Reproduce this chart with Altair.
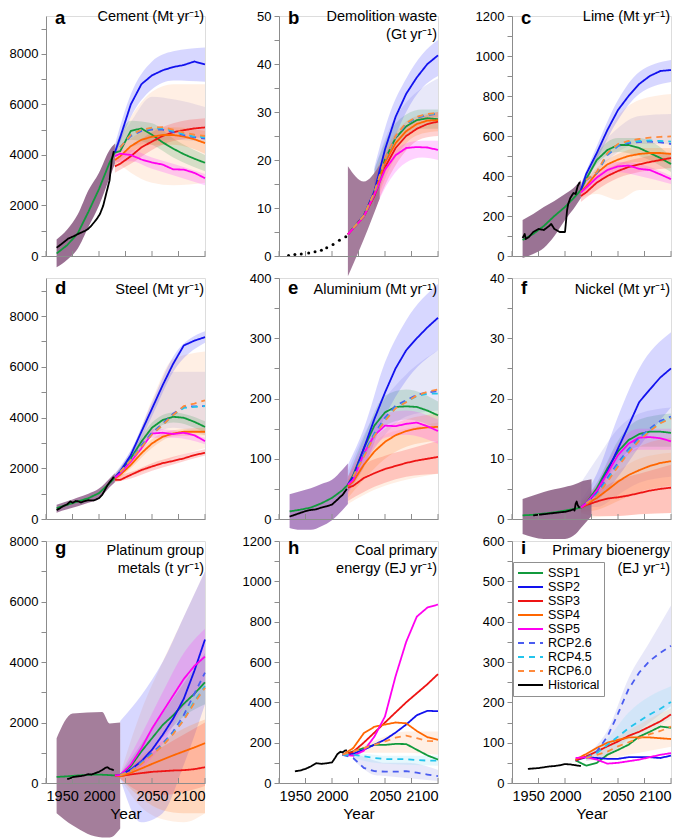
import altair as alt
import pandas as pd

# ---------------------------------------------------------------- data ----
PROJ_YEARS = [2015, 2020, 2030, 2040, 2050, 2060, 2070, 2080, 2090, 2100]
DEC_YEARS = [2010, 2020, 2030, 2040, 2050, 2060, 2070, 2080, 2090, 2100]
RCP_YEARS = [2020, 2030, 2040, 2050, 2060, 2070, 2080, 2090, 2100]
BACK_YEARS = [1960, 1970, 1980, 1990, 2000, 2010]
BAND_YEARS = [2015, 2030, 2050, 2070, 2100]
HIST_BAND_YEARS = [1960, 1970, 1980, 1990, 2000, 2010, 2015]
TICK_YEARS = [1950, 1975, 2000, 2025, 2050, 2075, 2100]
LABEL_YEARS = [1950, 2000, 2050, 2100]

SERIES = ["SSP1", "SSP2", "SSP3", "SSP4", "SSP5", "RCP2.6", "RCP4.5", "RCP6.0", "Historical"]

# a  Cement (Mt/yr)
CEMENT = {
    "hist_years": [1960, 1966, 1971, 1976, 1981, 1987, 1990, 1993, 1998, 2001, 2004, 2007, 2010, 2012, 2014],
    "hist": [326, 520, 690, 780, 886, 1000, 1080, 1210, 1470, 1670, 1995, 2500, 3000, 3800, 4150],
    "back": [100, 430, 900, 1750, 2650, 3700],
    "ssp_years": PROJ_YEARS,
    "SSP1": [4100, 4150, 4950, 5050, 4800, 4500, 4250, 4030, 3850, 3690],
    "SSP2": [4100, 4700, 6000, 6800, 7150, 7350, 7480, 7560, 7700, 7580],
    "SSP3": [3550, 3650, 3950, 4300, 4530, 4750, 4900, 4980, 5050, 5090],
    "SSP4": [3800, 3950, 4350, 4600, 4720, 4790, 4790, 4730, 4620, 4470],
    "SSP5": [3950, 4050, 4000, 3820, 3700, 3620, 3430, 3420, 3290, 3080],
    "rcp_years": RCP_YEARS,
    "RCP2.6": [4300, 4750, 4950, 5000, 5000, 4900, 4780, 4700, 4650],
    "RCP4.5": [4300, 4800, 5000, 5050, 5050, 4950, 4820, 4730, 4700],
    "RCP6.0": [4300, 4800, 5000, 5080, 5100, 5000, 4880, 4800, 4750],
    "band_years": BAND_YEARS,
    "bands": {
        "SSP1": ([3900, 4600, 4400, 3900, 3350], [4350, 5350, 5250, 4650, 4000]),
        "SSP2": ([3900, 5500, 6600, 6950, 6900], [4400, 6400, 7700, 8100, 8250]),
        "SSP3": ([3300, 3650, 4200, 4550, 4700], [3800, 4300, 4900, 5250, 5450]),
        "SSP4": ([3600, 4100, 4400, 4400, 4050], [4100, 4650, 5050, 5100, 4950]),
        "SSP5": ([3700, 3750, 3450, 3200, 2800], [4200, 4200, 3900, 3650, 3250]),
    },
    "pale_years": BAND_YEARS,
    "pale": {
        "RCP2.6": ([4000, 4300, 4500, 4600, 4500], [4300, 5300, 6300, 6200, 5900]),
        "RCP6.0": ([3800, 3300, 2900, 2800, 2900], [4300, 5500, 6500, 6800, 6800]),
    },
    "shared_years": HIST_BAND_YEARS,
    "shared": ([-450, -150, 300, 1150, 2000, 3100, 3650], [650, 1050, 1650, 2600, 3300, 4200, 4450]),
}

# b  Demolition waste (Gt/yr)
DEMOLITION = {
    "hist_years": [1959, 1965, 1971, 1978, 1984, 1990, 1995, 2001, 2007, 2013],
    "hist": [0.1, 0.3, 0.4, 0.6, 0.9, 1.2, 1.7, 2.4, 3.3, 4.0],
    "ssp_years": PROJ_YEARS,
    "SSP1": [4.5, 5.8, 8.4, 13.2, 20.1, 24.6, 27.0, 28.3, 28.7, 28.5],
    "SSP2": [4.5, 5.8, 8.4, 13.5, 22.2, 29.0, 33.8, 37.2, 40.0, 41.8],
    "SSP3": [4.5, 5.7, 8.2, 12.5, 18.5, 22.5, 25.0, 26.5, 27.5, 28.0],
    "SSP4": [4.5, 5.8, 8.3, 13.0, 19.5, 23.5, 26.0, 27.5, 28.2, 28.3],
    "SSP5": [4.5, 5.7, 8.2, 12.8, 18.0, 21.0, 22.5, 22.7, 22.6, 22.1],
    "rcp_years": RCP_YEARS,
    "RCP2.6": [5.8, 8.4, 13.2, 20.0, 24.8, 27.5, 28.8, 29.4, 29.6],
    "RCP4.5": [5.8, 8.4, 13.2, 20.1, 24.9, 27.6, 28.9, 29.5, 29.7],
    "RCP6.0": [5.8, 8.4, 13.3, 20.2, 25.0, 27.7, 29.0, 29.6, 29.8],
    "band_years": [2040, 2055, 2070, 2085, 2100],
    "bands": {
        "SSP1": ([10, 20, 25, 26.5, 26.5], [18, 26, 29.5, 30.5, 30.5]),
        "SSP2": ([10, 22, 30, 35, 37.5], [18.5, 30, 37, 42, 45]),
        "SSP3": ([9.5, 17, 22, 24.5, 25], [16, 23, 27, 29, 30]),
        "SSP4": ([10, 18.5, 23.5, 25.5, 26], [17, 24, 28, 29.5, 30]),
        "SSP5": ([9.5, 16, 19.5, 20.5, 20], [16.5, 21, 23.5, 24, 24]),
    },
    "pale_years": [2040, 2055, 2070, 2085, 2100],
    "pale": {
        "RCP2.6": ([13, 22, 27, 28.5, 29], [18, 27, 32, 35, 37]),
    },
    "shared_years": [2015, 2030, 2045],
    "shared": ([-4.2, 3.5, 12], [18.7, 15.5, 19]),
}

# c  Lime (Mt/yr)
LIME = {
    "hist_years": [1960, 1962, 1963, 1966, 1970, 1975, 1980, 1985, 1987, 1990, 1995, 2000, 2002, 2003, 2005, 2008, 2010, 2012, 2014],
    "hist": [90, 110, 85, 95, 120, 135, 130, 150, 160, 135, 120, 120, 230, 260, 290, 315, 310, 350, 370],
    "back": [80, 110, 150, 200, 245, 300],
    "ssp_years": PROJ_YEARS,
    "SSP1": [330, 385, 480, 530, 555, 555, 540, 515, 490, 460],
    "SSP2": [330, 410, 515, 630, 730, 800, 860, 900, 925, 930],
    "SSP3": [300, 318, 367, 400, 425, 445, 458, 470, 480, 490],
    "SSP4": [320, 350, 415, 458, 482, 500, 510, 515, 515, 510],
    "SSP5": [318, 342, 392, 430, 448, 452, 436, 430, 408, 384],
    "rcp_years": RCP_YEARS,
    "RCP2.6": [380, 415, 505, 550, 565, 570, 572, 568, 560],
    "RCP4.5": [380, 418, 510, 555, 570, 575, 578, 575, 572],
    "RCP6.0": [380, 420, 515, 560, 575, 585, 592, 596, 598],
    "band_years": BAND_YEARS,
    "bands": {
        "SSP1": ([310, 460, 520, 500, 420], [350, 510, 590, 590, 500]),
        "SSP2": ([310, 480, 680, 810, 870], [360, 550, 780, 920, 980]),
        "SSP3": ([270, 330, 390, 420, 440], [320, 400, 460, 490, 520]),
        "SSP4": ([290, 390, 450, 470, 470], [340, 440, 510, 540, 540]),
        "SSP5": ([290, 360, 420, 400, 360], [340, 420, 470, 460, 400]),
    },
    "pale_years": BAND_YEARS,
    "pale": {
        "RCP2.6": ([320, 420, 520, 560, 560], [360, 520, 640, 700, 710]),
        "RCP6.0": ([290, 310, 280, 330, 330], [360, 520, 700, 780, 810]),
    },
    "shared_years": HIST_BAND_YEARS,
    "shared": ([-10, 10, 40, 100, 180, 250, 290], [180, 210, 245, 275, 310, 350, 380]),
}

# d  Steel (Mt/yr)
STEEL = {
    "hist_years": [1960, 1963, 1966, 1970, 1973, 1975, 1978, 1980, 1983, 1986, 1990, 1995, 2000, 2003, 2005, 2008, 2010, 2012, 2014],
    "hist": [350, 420, 500, 580, 690, 640, 710, 700, 650, 700, 740, 730, 820, 950, 1100, 1330, 1450, 1550, 1660],
    "back": [430, 560, 690, 820, 1020, 1410],
    "ssp_years": PROJ_YEARS,
    "SSP1": [1630, 1870, 2390, 3050, 3600, 3900, 4030, 3990, 3830, 3630],
    "SSP2": [1630, 1870, 2520, 3440, 4350, 5270, 6120, 6840, 7030, 7170],
    "SSP3": [1550, 1540, 1740, 1930, 2070, 2200, 2290, 2390, 2520, 2610],
    "SSP4": [1600, 1740, 2130, 2590, 2980, 3240, 3370, 3440, 3440, 3440],
    "SSP5": [1630, 1800, 2260, 2780, 3370, 3400, 3350, 3400, 3300, 3070],
    "rcp_years": RCP_YEARS,
    "RCP2.6": [1850, 2350, 2900, 3400, 3750, 4150, 4420, 4440, 4450],
    "RCP4.5": [1850, 2330, 2850, 3350, 3700, 4100, 4380, 4420, 4450],
    "RCP6.0": [1850, 2320, 2830, 3330, 3700, 4100, 4450, 4550, 4680],
    "band_years": BAND_YEARS,
    "bands": {
        "SSP1": ([1500, 2250, 3400, 3800, 3400], [1750, 2550, 3800, 4200, 3850]),
        "SSP2": ([1500, 2350, 4050, 5800, 6950], [1750, 2700, 4600, 6400, 7400]),
        "SSP3": ([1450, 1600, 1900, 2150, 2500], [1700, 1850, 2200, 2450, 2750]),
        "SSP4": ([1450, 2000, 2800, 3250, 3300], [1700, 2250, 3150, 3500, 3600]),
        "SSP5": ([1500, 2150, 3200, 3200, 2950], [1750, 2400, 3550, 3500, 3200]),
    },
    "pale_years": BAND_YEARS,
    "pale": {
        "RCP2.6": ([1600, 2300, 3300, 3600, 3300], [1800, 2700, 4400, 5800, 5800]),
        "RCP6.0": ([1500, 1700, 2000, 2400, 2800], [1800, 2600, 4700, 6300, 6600]),
    },
    "shared_years": HIST_BAND_YEARS,
    "shared": ([250, 380, 500, 640, 800, 1250, 1450], [560, 700, 850, 1000, 1200, 1600, 1800]),
}

# e  Aluminium (Mt/yr)
ALUMINIUM = {
    "hist_years": [1960, 1965, 1970, 1975, 1980, 1985, 1990, 1995, 2000, 2005, 2008, 2010, 2012, 2014],
    "hist": [4, 7, 10, 13, 15, 16, 19, 21, 24, 32, 37, 40, 45, 50],
    "back": [12.6, 15.4, 19, 26, 35, 48],
    "ssp_years": PROJ_YEARS,
    "SSP1": [57, 73, 117, 155, 177, 186, 187, 186, 180, 172],
    "SSP2": [57, 70, 117, 166, 210, 250, 280, 300, 318, 334],
    "SSP3": [52, 55, 68, 76, 83, 88, 93, 97, 100, 103],
    "SSP4": [55, 62, 90, 112, 128, 139, 146, 150, 152, 153],
    "SSP5": [57, 65, 109, 139, 155, 154, 158, 160, 154, 146],
    "rcp_years": RCP_YEARS,
    "RCP2.6": [70, 108, 142, 168, 188, 197, 206, 210, 212],
    "RCP4.5": [70, 105, 140, 165, 185, 195, 204, 208, 208],
    "RCP6.0": [70, 103, 138, 163, 184, 194, 205, 211, 215],
    "band_years": BAND_YEARS,
    "bands": {
        "SSP1": ([45, 100, 155, 165, 150], [70, 135, 205, 215, 195]),
        "SSP2": ([45, 85, 170, 230, 280], [90, 150, 260, 330, 390]),
        "SSP3": ([30, 45, 60, 70, 75], [65, 90, 105, 115, 130]),
        "SSP4": ([35, 65, 100, 120, 130], [70, 115, 150, 165, 175]),
        "SSP5": ([40, 90, 135, 140, 125], [70, 125, 175, 180, 165]),
    },
    "pale_years": BAND_YEARS,
    "pale": {
        "RCP2.6": ([45, 90, 140, 170, 180], [80, 140, 200, 240, 280]),
        "RCP6.0": ([25, 40, 55, 65, 75], [70, 110, 140, 150, 160]),
    },
    "shared_years": HIST_BAND_YEARS,
    "shared": ([-15, -18, -18, -12, -2, 15, 25], [41, 46, 51, 58, 65, 82, 92]),
}

# f  Nickel (Mt/yr)
NICKEL = {
    "hist_years": [1970, 1975, 1980, 1985, 1990, 1995, 2000, 2005, 2008, 2009, 2010, 2011, 2012, 2013, 2014],
    "hist": [0.6, 0.7, 0.8, 0.9, 1.0, 1.1, 1.2, 1.4, 1.6, 1.4, 2.5, 2.9, 2.3, 2.0, 1.9],
    "back": [0.6, 0.7, 0.9, 1.1, 1.4, 1.7],
    "ssp_years": PROJ_YEARS,
    "SSP1": [1.9, 2.6, 5.1, 8.4, 11.2, 13.1, 14.1, 14.5, 14.5, 14.3],
    "SSP2": [1.9, 2.6, 4.6, 7.9, 11.7, 15.5, 19.4, 21.5, 23.5, 25.0],
    "SSP3": [1.9, 2.3, 2.9, 3.4, 3.6, 3.9, 4.3, 4.7, 5.0, 5.2],
    "SSP4": [1.9, 2.4, 3.5, 4.8, 6.2, 7.3, 8.1, 8.8, 9.3, 9.6],
    "SSP5": [1.9, 2.6, 4.7, 7.6, 10.6, 12.5, 13.5, 13.6, 13.4, 12.9],
    "rcp_years": RCP_YEARS,
    "RCP2.6": [2.6, 4.2, 6.8, 9.3, 11.6, 13.5, 15.0, 16.3, 17.0],
    "RCP4.5": [2.6, 4.0, 6.5, 9.0, 11.3, 13.2, 14.8, 16.0, 16.8],
    "RCP6.0": [2.6, 3.8, 6.2, 8.7, 11.0, 13.0, 14.6, 15.9, 16.7],
    "band_years": BAND_YEARS,
    "bands": {
        "SSP1": ([1.5, 4.2, 9.5, 12, 12], [2.5, 6, 13, 16.5, 17.5]),
        "SSP2": ([1.5, 3, 7, 12, 18.5], [3, 7.5, 17, 25, 31]),
        "SSP3": ([1, 0.5, 0.5, 0.8, 1], [2.5, 4.5, 6.5, 7.5, 9]),
        "SSP4": ([1.2, 1.5, 3, 4.5, 5.5], [2.5, 5.5, 9.5, 12, 13.5]),
        "SSP5": ([1.5, 3.8, 9, 11.5, 11.5], [2.5, 5.8, 12.5, 15, 15]),
    },
    "pale_years": BAND_YEARS,
    "pale": {
        "RCP2.6": ([2, 2, 4, 6, 7], [6, 10, 15, 17.5, 18.5]),
        "RCP6.0": ([0, 0.3, 0.5, 0.8, 1], [3, 5, 8, 10, 11]),
    },
    "shared_years": [1960, 1980, 2000, 2010, 2015, 2025],
    "shared": ([-2.5, -3.3, -3.3, -2.5, -1.5, 0.5], [3.3, 4.5, 5.3, 5.8, 6.2, 6.6]),
}

# g  Platinum group metals (t/yr)
PGM = {
    "hist_years": [1970, 1973, 1976, 1980, 1983, 1986, 1990, 1993, 1996, 2000, 2003, 2006, 2008, 2010, 2012, 2014],
    "hist": [130, 160, 200, 220, 230, 250, 290, 280, 320, 370, 430, 500, 520, 470, 450, 420],
    "back": [200, 220, 250, 270, 280, 260],
    "ssp_years": PROJ_YEARS,
    "SSP1": [250, 261, 555, 1045, 1480, 1915, 2240, 2620, 2950, 3330],
    "SSP2": [250, 261, 446, 718, 1100, 1590, 2130, 2785, 3710, 4745],
    "SSP3": [250, 230, 283, 326, 370, 390, 413, 424, 457, 522],
    "SSP4": [250, 218, 337, 480, 630, 772, 914, 1045, 1175, 1317],
    "SSP5": [250, 261, 610, 1150, 1800, 2350, 2895, 3440, 3870, 4180],
    "rcp_years": RCP_YEARS,
    "RCP2.6": [260, 420, 700, 1000, 1300, 1700, 2250, 2950, 3650],
    "RCP4.5": [260, 400, 650, 950, 1250, 1650, 2100, 2700, 3200],
    "RCP6.0": [260, 390, 630, 930, 1230, 1620, 2080, 2650, 3150],
    "band_years": [2020, 2040, 2060, 2080, 2100],
    "bands": {
        "SSP1": ([200, 600, 1500, 2200, 2600], [300, 1300, 2300, 3300, 4300]),
        "SSP2": ([150, -1300, -1000, 600, 2600], [2050, 2900, 4000, 5500, 7000]),
        "SSP3": ([150, -300, -400, -300, -100], [300, 800, 1200, 1600, 2000]),
        "SSP4": ([150, -500, -900, -1000, -1000], [300, 900, 1400, 1800, 2100]),
        "SSP5": ([200, 500, 1300, 2500, 3300], [300, 1600, 3000, 4300, 5100]),
    },
    "pale_years": [2020, 2040, 2060, 2080, 2100],
    "pale": {
        "RCP6.0": ([150, -800, -1200, -1300, -1000], [300, 2400, 4000, 5500, 7000]),
    },
    "shared_years": [1960, 1975, 2003, 2010, 2020],
    "shared": ([-1000, -1400, -1800, -1800, -1500], [1480, 2300, 2350, 1970, 2000]),
}

# h  Coal primary energy (EJ/yr)
COAL = {
    "hist_years": [1965, 1970, 1975, 1980, 1985, 1990, 1995, 2000, 2003, 2005, 2008, 2010, 2012, 2014],
    "hist": [58, 62, 70, 82, 98, 95, 98, 102, 125, 143, 155, 152, 160, 163],
    "ssp_years": DEC_YEARS,
    "SSP1": [140, 157, 173, 189, 189, 194, 193, 165, 137, 116],
    "SSP2": [140, 145, 165, 190, 215, 250, 290, 336, 358, 356],
    "SSP3": [140, 155, 200, 250, 300, 350, 400, 445, 490, 540],
    "SSP4": [140, 173, 247, 279, 290, 300, 296, 258, 227, 214],
    "SSP5": [140, 135, 160, 230, 330, 530, 700, 825, 870, 885],
    "rcp_years": DEC_YEARS,
    "RCP2.6": [140, 124, 75, 59, 56, 56, 59, 51, 42, 34],
    "RCP4.5": [140, 140, 132, 124, 119, 118, 118, 114, 111, 111],
    "RCP6.0": [140, 157, 173, 189, 206, 225, 235, 222, 209, 206],
    "pale_years": [2020, 2030, 2040, 2050, 2070, 2100],
    "pale": {
        "RCP2.6": ([115, 70, 40, 35, 25, 10], [150, 130, 112, 100, 100, 65]),
        "RCP4.5": ([125, 110, 100, 95, 90, 85], [150, 145, 140, 135, 135, 135]),
        "RCP6.0": ([150, 150, 150, 150, 150, 140], [165, 190, 210, 230, 255, 255]),
    },
}

# i  Primary bioenergy (EJ/yr)
BIOENERGY = {
    "hist_years": [1965, 1970, 1975, 1980, 1985, 1990, 1995, 2000, 2005, 2010, 2015],
    "hist": [35, 36, 37, 39, 41, 42, 44, 47, 46, 44, 42],
    "ssp_years": DEC_YEARS,
    "SSP1": [56, 43, 50, 70, 82, 95, 115, 127, 140, 137],
    "SSP2": [56, 64, 62, 60, 60, 64, 64, 64, 62, 68],
    "SSP3": [56, 66, 78, 91, 103, 117, 127, 140, 153, 170],
    "SSP4": [58, 72, 87, 100, 107, 113, 113, 113, 111, 109],
    "SSP5": [62, 64, 58, 48, 50, 54, 58, 64, 70, 74],
    "rcp_years": RCP_YEARS,
    "RCP2.6": [62, 78, 115, 172, 233, 274, 303, 323, 340],
    "RCP4.5": [62, 74, 95, 115, 136, 153, 170, 184, 201],
    "RCP6.0": [62, 70, 78, 91, 101, 111, 121, 129, 140],
    "pale_years": [2020, 2040, 2060, 2080, 2100],
    "pale": {
        "RCP2.6": ([55, 70, 110, 150, 190], [70, 130, 260, 350, 440]),
        "RCP4.5": ([55, 70, 100, 130, 160], [70, 110, 175, 215, 240]),
        "RCP6.0": ([55, 60, 70, 80, 90], [70, 100, 130, 160, 185]),
    },
}

PANELS = [CEMENT, DEMOLITION, LIME, STEEL, ALUMINIUM, NICKEL, PGM, COAL, BIOENERGY]
LETTERS = ["a", "b", "c", "d", "e", "f", "g", "h", "i"]
TITLES = [
    "Cement (Mt yr⁻¹)", "Demolition waste\n(Gt yr⁻¹)", "Lime (Mt yr⁻¹)",
    "Steel (Mt yr⁻¹)", "Aluminium (Mt yr⁻¹)", "Nickel (Mt yr⁻¹)",
    "Platinum group\nmetals (t yr⁻¹)", "Coal primary\nenergy (EJ yr⁻¹)", "Primary bioenergy\n(EJ yr⁻¹)",
]
Y_MAX = [9500, 50, 1200, 9500, 400, 40, 8000, 1200, 600]
Y_MINOR = [1000, 5, 100, 1000, 50, 5, 1000, 100, 50]
Y_MAJOR = [2000, 10, 200, 2000, 100, 10, 2000, 200, 100]

# --------------------------------------------------------------- style ----
FONT = "Liberation Sans"
GRAY = "#8c8c8c"
SERIES_COLORS = ["#119a3c", "#1212ee", "#ee1414", "#ff6600", "#ff00f0",
                 "#4a5cf0", "#22c4ec", "#ff8a3d", "#000000"]
SERIES_DASH = [[1, 0]] * 5 + [[6, 5]] * 3 + [[1, 0]]
SERIES_WIDTH = [1.8] * 5 + [1.2] * 3 + [3.2]
BAND_NAMES = ["RCP2.6 range", "RCP4.5 range", "RCP6.0 range",
              "SSP1 range", "SSP2 range", "SSP3 range", "SSP4 range", "SSP5 range"]
BAND_COLORS = ["#8c8ce0", "#7fdcf5", "#ffb27a",
               "#3c9d5d", "#4040ff", "#ff3030", "#ff8030", "#ff30ff"]
BAND_OPACITY = [0.2, 0.22, 0.2, 0.3, 0.25, 0.28, 0.28, 0.28]
SHARED_COLORS = ["#8e5f86", "#9a6e90", "#8f6488", "#9a6a95", "#a77bbd",
                 "#8f6488", "#9a7090", "#9a7090", "#9a7090"]
ROW_H = [240, 241, 242]
W = 159
LETTER_TOP = [-7, 1, -2]
TITLE_TOP = [-6, 5, 3]


def series_frame(d):
    rows = []
    for s in SERIES[:5]:
        years, vals = list(d["ssp_years"]), list(d[s])
        if s == "SSP1" and "back" in d:
            years, vals = BACK_YEARS + years, d["back"] + vals
        rows += [{"year": y, "value": v, "series": s} for y, v in zip(years, vals)]
    for s in SERIES[5:8]:
        rows += [{"year": y, "value": v, "series": s} for y, v in zip(d["rcp_years"], d[s])]
    return pd.DataFrame(rows)


def band_frame(years, spec):
    rows = []
    for name, (lo, hi) in spec.items():
        rows += [{"year": y, "lo": a, "hi": b, "band": name + " range"}
                 for y, a, b in zip(years, lo, hi)]
    return pd.DataFrame(rows)


def make_panel(i):
    d = PANELS[i]
    row = i // 3
    H = ROW_H[row]
    last = row == 2
    xscale = alt.Scale(domain=[1950, 2100], nice=False, zero=False)
    xaxis = alt.Axis(values=LABEL_YEARS, labels=last, ticks=False, grid=False,
                     domainColor=GRAY, title="Year" if last else None,
                     labelFontSize=14.5, titleFontSize=15.5, titleFontWeight="normal",
                     labelPadding=6, titlePadding=4, labelColor="black", format="d",
                     labelFont=FONT, titleFont=FONT, zindex=1)
    ymax_tick = (Y_MAX[i] // Y_MINOR[i]) * Y_MINOR[i]
    yaxis = alt.Axis(values=list(range(0, ymax_tick + 1, Y_MINOR[i])),
                     labelExpr=f"datum.value % {Y_MAJOR[i]} === 0 ? datum.label : ''",
                     format="d", grid=False, domainColor=GRAY, tickColor=GRAY,
                     tickSize=5, labelFontSize=13, labelPadding=3, title=None,
                     labelColor="black", labelFont=FONT)
    yscale = alt.Scale(domain=[0, Y_MAX[i]], nice=False, zero=False)
    X = alt.X("year:Q", scale=xscale, axis=xaxis)
    fill = alt.Fill("band:N", scale=alt.Scale(domain=BAND_NAMES, range=BAND_COLORS), legend=None)
    fop = alt.FillOpacity("band:N", scale=alt.Scale(domain=BAND_NAMES, range=BAND_OPACITY), legend=None)

    layers = []
    if "pale" in d:
        layers.append(alt.Chart(band_frame(d["pale_years"], d["pale"])).mark_area(
            interpolate="monotone").encode(
            x=X, y=alt.Y("lo:Q", scale=yscale, axis=yaxis), y2="hi:Q", fill=fill, fillOpacity=fop))
    if "bands" in d:
        layers.append(alt.Chart(band_frame(d["band_years"], d["bands"])).mark_area(
            interpolate="monotone").encode(
            x=X, y=alt.Y("lo:Q", scale=yscale, axis=yaxis), y2="hi:Q", fill=fill, fillOpacity=fop))
    if "shared" in d:
        sdf = pd.DataFrame({"year": d["shared_years"], "lo": d["shared"][0], "hi": d["shared"][1]})
        layers.append(alt.Chart(sdf).mark_area(interpolate="monotone", color=SHARED_COLORS[i],
                                               opacity=0.9).encode(
            x=X, y=alt.Y("lo:Q", scale=yscale, axis=yaxis), y2="hi:Q"))

    if i == 8:
        leg = alt.Legend(title=None, orient="none", legendX=1, legendY=21,
                         symbolType="M-1,0H3.17", symbolSize=144, labelFontSize=12.5,
                         labelFont=FONT, labelOffset=17, strokeColor="#909090",
                         fillColor="white", padding=4, rowPadding=0, labelColor="black")
    else:
        leg = None
    color = alt.Color("series:N", scale=alt.Scale(domain=SERIES, range=SERIES_COLORS), legend=leg)
    dash = alt.StrokeDash("series:N", scale=alt.Scale(domain=SERIES, range=SERIES_DASH), legend=leg)
    width = alt.StrokeWidth("series:N", scale=alt.Scale(domain=SERIES, range=SERIES_WIDTH), legend=leg)
    Y = alt.Y("value:Q", scale=yscale, axis=yaxis)

    layers.append(alt.Chart(series_frame(d)).mark_line().encode(
        x=X, y=Y, color=color, strokeDash=dash, strokeWidth=width))

    hdf = pd.DataFrame({"year": d["hist_years"], "value": d["hist"], "series": "Historical"})
    if i == 1:
        layers.append(alt.Chart(hdf).mark_circle(size=9, color="black", opacity=1).encode(x=X, y=Y))
    else:
        layers.append(alt.Chart(hdf).mark_line(strokeJoin="round").encode(
            x=X, y=Y, color=color, strokeDash=dash, strokeWidth=width))

    layers.append(alt.Chart(pd.DataFrame({"year": TICK_YEARS})).mark_rule(
        color=GRAY, strokeWidth=1).encode(x=X, y=alt.value(H), y2=alt.value(H - 5)))
    layers.append(alt.Chart(pd.DataFrame({"t": [LETTERS[i]]})).mark_text(
        align="left", baseline="top", font=FONT, fontSize=18.5, fontWeight="bold",
        color="black").encode(text="t:N", x=alt.value(9), y=alt.value(LETTER_TOP[row])))
    layers.append(alt.Chart(pd.DataFrame({"t": [TITLES[i]]})).mark_text(
        align="right", baseline="top", font=FONT, fontSize=14.5, lineBreak="\n",
        lineHeight=18, color="black").encode(
        text="t:N", x=alt.value(W - 1), y=alt.value(TITLE_TOP[row])))

    return alt.layer(*layers).properties(width=W, height=H)


res = dict(color="independent", strokeDash="independent", strokeWidth="independent")
chart = alt.concat(*[make_panel(k) for k in range(9)], columns=3,
                   spacing={"row": 22, "column": 74}, bounds="flush").resolve_scale(**res).properties(
    padding={"left": 0, "top": 0, "right": 0, "bottom": 0}
).configure_view(stroke=None).configure(font=FONT)

chart.save("out.html", embed_options={"renderer": "svg", "actions": False})
